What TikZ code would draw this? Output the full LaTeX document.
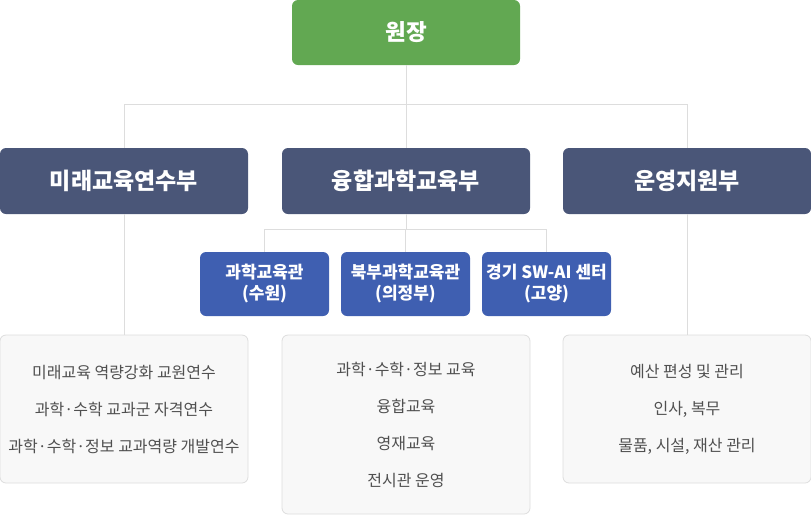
\documentclass[tikz,border=0pt]{standalone}
\usepackage{fontspec}
\setmainfont{Noto Sans CJK KR}
\usetikzlibrary{positioning}
\definecolor{headgreen}{HTML}{62A852}
\definecolor{deptnavy}{HTML}{4A5678}
\definecolor{centerblue}{HTML}{3F5FB1}
\definecolor{linegray}{HTML}{DDDDDD}
\definecolor{boxfill}{HTML}{F8F8F8}
\definecolor{textgray}{HTML}{505050}
\tikzset{
  headbox/.style={fill=headgreen,rounded corners=6pt,minimum width=228pt,minimum height=65pt,
    text=white,font=\fontsize{22.5}{26}\selectfont\bfseries},
  deptbox/.style={fill=deptnavy,rounded corners=6pt,minimum width=248pt,minimum height=66pt,
    text=white,font=\fontsize{23}{26}\selectfont\bfseries},
  subbox/.style={fill=centerblue,rounded corners=6pt,minimum width=129pt,minimum height=64pt,
    text=white,align=center,font=\fontsize{17}{21}\selectfont\bfseries},
  workbox/.style={fill=boxfill,draw=linegray,line width=0.8pt,rounded corners=6pt,
    minimum width=248pt,text=textgray,align=center,font=\fontsize{16}{37}\selectfont},
  link/.style={draw=linegray,line width=1pt}
}
\begin{document}
\begin{tikzpicture}[x=1pt,y=-1pt]
  \useasboundingbox (0,0) rectangle (811,515);
  \node[headbox] (head) at (406,32.5) {원장};
  \foreach \x/\n/\v in {124/dept1/미래교육연수부, 406/dept2/융합과학교육부, 687/dept3/운영지원부}{
    \node[deptbox] (\n) at (\x,181) {\v};
  }
  \foreach \x/\n/\v in {264.5/sub1/{과학교육관\\(수원)}, 405.5/sub2/{북부과학교육관\\(의정부)}, 546.5/sub3/{경기 SW-AI 센터\\(고양)}}{
    \node[subbox] (\n) at (\x,284) {\v};
  }
  \node[workbox,minimum height=148pt] (work1) at (124,409)
    {미래교육 역량강화 교원연수\\과학·수학 교과군 자격연수\\과학·수학·정보 교과역량 개발연수};
  \node[workbox,minimum height=179pt] (work2) at (406,424.5)
    {과학·수학·정보 교육\\융합교육\\영재교육\\전시관 운영};
  \node[workbox,minimum height=148pt] (work3) at (687,409)
    {예산 편성 및 관리\\인사, 복무\\물품, 시설, 재산 관리};
  % connectors
  \draw[link] (head.south) -- (dept2.north);
  \draw[link] (head.south) ++(0,39) -| (dept1.north);
  \draw[link] (head.south) ++(0,39) -| (dept3.north);
  \draw[link] (dept2.south) -- ++(0,15) -| (sub1.north);
  \draw[link] (dept2.south) ++(0,15) -| (sub2.north);
  \draw[link] (dept2.south) ++(0,15) -| (sub3.north);
  \draw[link] (dept1.south) -- (work1.north);
  \draw[link] (dept3.south) -- (work3.north);
\end{tikzpicture}
\end{document}
